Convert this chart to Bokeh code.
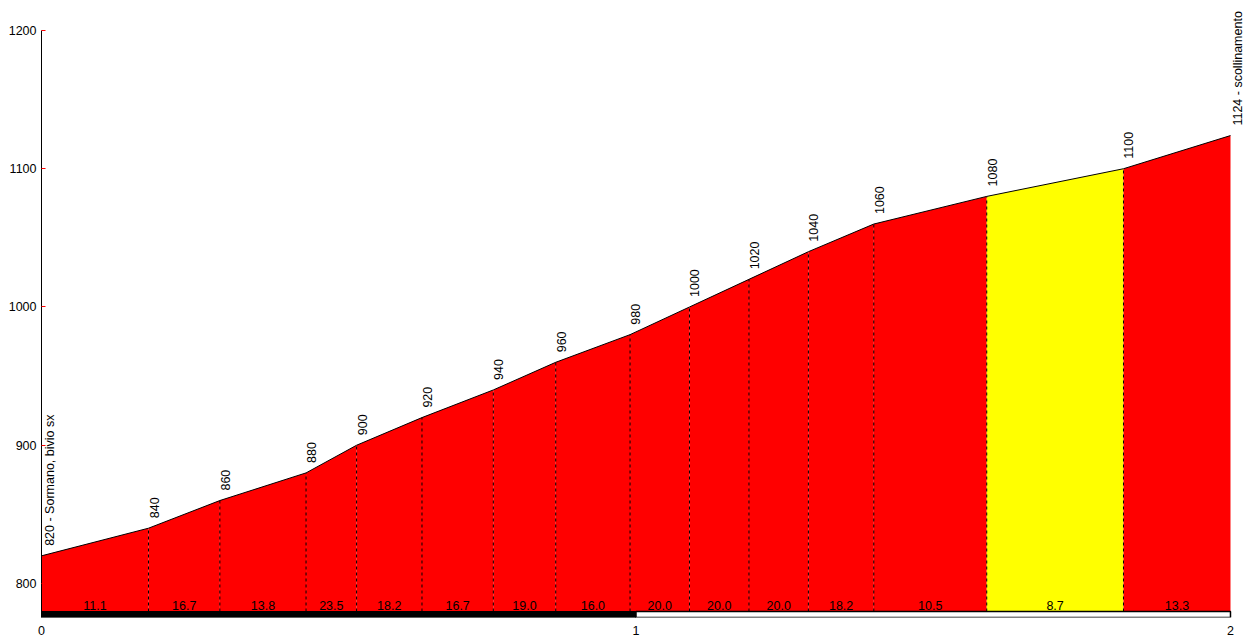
from bokeh.plotting import figure
from bokeh.models import Range1d, FixedTicker, Label, ColumnDataSource
from bokeh.embed import file_html
from bokeh.resources import INLINE
from bokeh.core.properties import value

# ---- data ----
dist_km = [0, 0.18, 0.30, 0.445, 0.53, 0.64, 0.76, 0.865, 0.99, 1.09, 1.19, 1.29, 1.40, 1.59, 1.82, 2.0]
elev_m = [820, 840, 860, 880, 900, 920, 940, 960, 980, 1000, 1020, 1040, 1060, 1080, 1100, 1124]
grad_pct = [11.1, 16.7, 13.8, 23.5, 18.2, 16.7, 19.0, 16.0, 20.0, 20.0, 20.0, 18.2, 10.5, 8.7, 13.3]
place_names = ["Sormano, bivio sx"] + [""] * 14 + ["scollinamento"]
y_ticks = [800, 900, 1000, 1100, 1200]
x_ticks = [0, 1, 2]

Y_BASE = 779.75
Y_MIN = 775.4
Y_AXIS_TOP = 1200
Y_VIEW_TOP = 1221.7      # room above 1200 for the rotated end label
X_END = 2.0
X_VIEW_END = 2.0303      # room right of 2 km for the rotated end label
FONT = "Liberation Sans"
FS = "12.5px"

p = figure(width=1248, height=641,
           x_range=Range1d(0, X_VIEW_END), y_range=Range1d(Y_MIN, Y_VIEW_TOP),
           output_backend="svg", toolbar_location=None,
           min_border_left=41, min_border_right=0,
           min_border_top=0, min_border_bottom=24)
p.background_fill_color = "white"
p.border_fill_color = "white"
p.outline_line_color = None
p.grid.visible = False

# segments filled by gradient class
xs, ys, colors = [], [], []
for i, g in enumerate(grad_pct):
    x0, x1 = dist_km[i], dist_km[i + 1]
    e0, e1 = elev_m[i], elev_m[i + 1]
    xs.append([x0, x0, x1, x1])
    ys.append([Y_BASE, e0, e1, Y_BASE])
    colors.append("#ffff00" if g < 10 else "#ff0000")
p.patches(xs=xs, ys=ys, fill_color=colors, line_color=None)

# profile outline
p.line(dist_km, elev_m, line_color="black", line_width=1)

# dashed dividers
p.segment(x0=dist_km[1:-1], y0=[Y_BASE] * (len(dist_km) - 2),
          x1=dist_km[1:-1], y1=elev_m[1:-1],
          line_color="black", line_width=1, line_dash="3 3")

# km bar
p.quad(left=[0], right=[1], bottom=[Y_MIN], top=[Y_BASE], fill_color="black", line_color="black")
p.quad(left=[1], right=[X_END], bottom=[Y_MIN], top=[Y_BASE], fill_color="white", line_color="black", line_width=1.5)

# gradient labels
mids = [(dist_km[i] + dist_km[i + 1]) / 2 for i in range(len(grad_pct))]
src = ColumnDataSource(dict(x=mids, y=[Y_BASE] * len(mids), t=[f"{g:.1f}" for g in grad_pct]))
p.text(x="x", y="y", text="t", source=src, text_align="center", text_baseline="bottom",
       y_offset=-1, text_font=value(FONT), text_font_size=FS, text_color="black")

# elevation labels
for d, e, n in zip(dist_km, elev_m, place_names):
    txt = f"{e} - {n}" if n else f"{e}"
    p.add_layout(Label(x=d, y=e, text=txt, angle=90, angle_units="deg",
                       text_align="left", text_baseline="top",
                       x_offset=1, y_offset=10,
                       text_font=FONT, text_font_size=FS, text_color="black"))

# axes
ya = p.yaxis[0]
ya.ticker = FixedTicker(ticks=y_ticks)
ya.bounds = (Y_MIN, Y_AXIS_TOP)
ya.major_tick_in = 4
ya.major_tick_out = 0
ya.major_tick_line_color = "red"
ya.minor_tick_line_color = None
ya.axis_line_color = "black"
ya.major_label_standoff = 5
ya.major_label_text_font = FONT
ya.major_label_text_font_size = FS
ya.major_label_text_color = "black"

xa = p.xaxis[0]
xa.ticker = FixedTicker(ticks=x_ticks)
xa.major_tick_in = 0
xa.major_tick_out = 0
xa.minor_tick_line_color = None
xa.axis_line_color = None
xa.major_label_standoff = 8
xa.major_label_text_font = FONT
xa.major_label_text_font_size = FS
xa.major_label_text_color = "black"

open("out.html", "w").write(file_html(p, INLINE))
